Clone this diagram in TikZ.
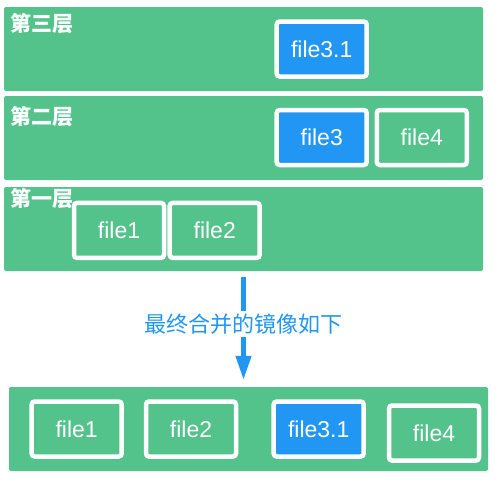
\documentclass[tikz,border=0pt]{standalone}
\usepackage{fontspec}
\setmainfont{Liberation Sans}
\newfontfamily\cjk{Noto Sans CJK SC}
\usepackage{tikz}
\usetikzlibrary{arrows.meta}

\definecolor{layergreen}{HTML}{53C38B}
\definecolor{fileblue}{HTML}{2196F3}

\tikzset{
    layer/.style={fill=layergreen,rounded corners=2pt,inner sep=0pt,
        minimum width=479pt},
    layertitle/.style={anchor=west,inner sep=0pt,text=white,
        font=\cjk\bfseries\fontsize{21}{21}\selectfont},
    filebox/.style={draw=white,line width=4.5pt,rounded corners=3pt,
        fill=layergreen,minimum width=90pt,minimum height=55pt,inner sep=0pt,
        text=white,font=\fontsize{23}{23}\selectfont},
    newfile/.style={filebox,fill=fileblue}
}

\begin{document}
\begin{tikzpicture}[x=1pt,y=-1pt]
            \useasboundingbox (0,0) rectangle (498,479);

            \node[layer,minimum height=84pt] (layerthree) at (243.5,49) {};
            \node[layertitle] (titlethree) at (10,24) {第三层};
            \node[newfile] (fthreeone) at (321.7,49) {file3.1};

            \node[layer,minimum height=84pt] (layertwo) at (243.5,138) {};
            \node[layertitle] (titletwo) at (10,117) {第二层};
            \node[newfile] (fthree) at (321.7,137.5) {file3};
            \node[filebox] (ffour) at (421.8,137.5) {file4};

            \node[layer,minimum height=84pt] (layerone) at (243.5,229) {};
            \node[layertitle] (titleone) at (10,199) {第一层};
            \node[filebox] (fone) at (119,230.4) {file1};
            \node[filebox] (ftwo) at (214.7,230.4) {file2};

            % merged image
            \node[layer,minimum width=479pt,minimum height=84pt] (merged) at (248.5,429) {};
            \node[filebox] (mone) at (76.7,429) {file1};
            \node[filebox] (mtwo) at (191,429) {file2};
            \node[newfile] (mthreeone) at (318.7,429) {file3.1};
            \node[filebox] (mfour) at (434,433) {file4};

            \node[text=fileblue,inner sep=3pt,font=\cjk\fontsize{22}{22}\selectfont]
                (mergetext) at (243.5,324) {最终合并的镜像如下};
            \draw[fileblue,line width=4.5pt,shorten <=6pt] (layerone.south -| mergetext) -- (mergetext.north);
            \draw[fileblue,line width=4.5pt,shorten >=7pt,-{Triangle[width=15pt,length=24pt]}]
                (mergetext.south) -- (merged.north -| mergetext);
        \end{tikzpicture}
\end{document}
